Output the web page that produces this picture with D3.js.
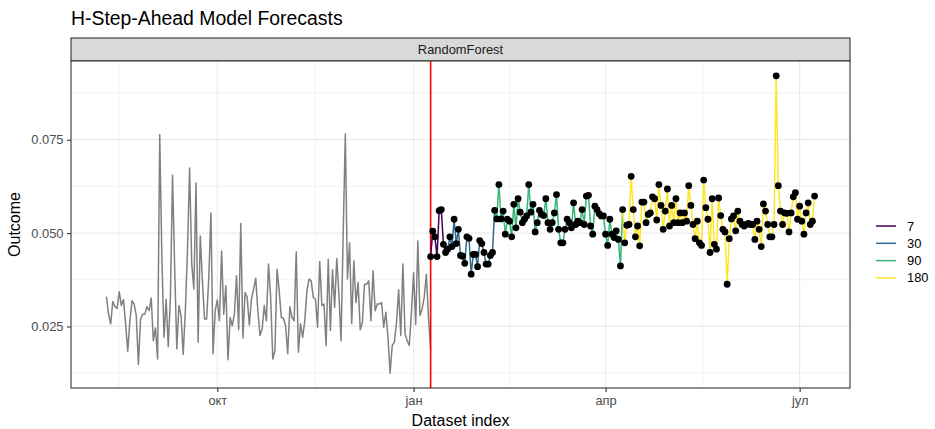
<!DOCTYPE html>
<html>
<head>
<meta charset="utf-8">
<script src="https://cdn.jsdelivr.net/npm/d3@7/dist/d3.min.js"></script>
<style>
  html, body { margin: 0; padding: 0; background: #ffffff; }
  svg { display: block; font-family: "Liberation Sans", Arial, Helvetica, sans-serif; }
</style>
</head>
<body>
<svg id="chart" width="935" height="429"></svg>
<script>
// ---------------- DATA ----------------
const chartTitle = "H-Step-Ahead Model Forecasts";
const facetLabel = "RandomForest";
const xAxisTitle = "Dataset index";
const yAxisTitle = "Outcome";

// Actual (historical) daily series, first date below
const actualStartDate = "2018-08-10";
const actualValues = [
  0.0330, 0.0283, 0.0257, 0.0317, 0.0303, 0.0298, 0.0343, 0.0306, 0.0322, 0.0257,
  0.0184, 0.0265, 0.0319, 0.0310, 0.0279, 0.0148, 0.0270, 0.0283, 0.0283, 0.0303,
  0.0292, 0.0326, 0.0212, 0.0246, 0.0163, 0.0763, 0.0434, 0.0221, 0.0322, 0.0196,
  0.0328, 0.0655, 0.0408, 0.0190, 0.0306, 0.0279, 0.0175, 0.0292, 0.0452, 0.0674,
  0.0417, 0.0350, 0.0634, 0.0208, 0.0492, 0.0372, 0.0270, 0.0270, 0.0381, 0.0554,
  0.0177, 0.0292, 0.0321, 0.0265, 0.0452, 0.0283, 0.0359, 0.0161, 0.0274, 0.0252,
  0.0283, 0.0386, 0.0241, 0.0526, 0.0219, 0.0341, 0.0328, 0.0254, 0.0323, 0.0350,
  0.0379, 0.0292, 0.0226, 0.0243, 0.0306, 0.0265, 0.0417,
  0.0328, 0.0163, 0.0185, 0.0403, 0.0346, 0.0274, 0.0272, 0.0252, 0.0177, 0.0303,
  0.0274, 0.0265, 0.0450, 0.0181, 0.0257, 0.0221, 0.0265, 0.0346, 0.0377, 0.0372,
  0.0328, 0.0323, 0.0248, 0.0424, 0.0306, 0.0310, 0.0199, 0.0430, 0.0239, 0.0402,
  0.0301, 0.0432, 0.0337, 0.0212, 0.0497, 0.0765, 0.0377, 0.0474, 0.0257, 0.0426,
  0.0314, 0.0368, 0.0241, 0.0261, 0.0363, 0.0363, 0.0372, 0.0265, 0.0399, 0.0292,
  0.0310, 0.0310, 0.0314, 0.0248, 0.0288, 0.0221, 0.0125, 0.0199, 0.0208, 0.0261,
  0.0348, 0.0226, 0.0417, 0.0230, 0.0212, 0.0199, 0.0288, 0.0394, 0.0255, 0.0479,
  0.0279, 0.0297, 0.0328, 0.0390, 0.0274, 0.0185
];

// Forecast origin (red line) and first forecast date
const forecastOriginDate = "2019-01-09";
const forecastStartDate = "2019-01-09";

// Forecasts per horizon window (days 1-7, 8-30, 31-90, 91-180)
const horizonLabels = ["7", "30", "90", "180"];
const horizonColors = ["#440154", "#31688E", "#35B779", "#FDE725"];
const forecastH7 = [0.0437, 0.0505, 0.0490, 0.0437, 0.0560, 0.0563, 0.0470];
const forecastH30 = [
  0.0448, 0.0457, 0.0490, 0.0464, 0.0537, 0.0472, 0.0510, 0.0440, 0.0438, 0.0419,
  0.0490, 0.0486, 0.0390, 0.0443, 0.0443, 0.0410, 0.0480, 0.0472, 0.0448, 0.0417,
  0.0417, 0.0440, 0.0448
];
const forecastH90 = [
  0.0561, 0.0538, 0.0630, 0.0538, 0.0559, 0.0497, 0.0537, 0.0532, 0.0490, 0.0577,
  0.0514, 0.0592, 0.0556, 0.0528, 0.0537, 0.0546, 0.0630, 0.0556, 0.0577, 0.0503,
  0.0528, 0.0561, 0.0550, 0.0547, 0.0592, 0.0528, 0.0510, 0.0528, 0.0554, 0.0603,
  0.0510, 0.0474, 0.0474, 0.0510, 0.0537, 0.0528, 0.0514, 0.0581, 0.0523, 0.0532,
  0.0528, 0.0563, 0.0523, 0.0599, 0.0601, 0.0519, 0.0497, 0.0572, 0.0563, 0.0552,
  0.0546, 0.0546, 0.0497, 0.0467, 0.0537, 0.0497, 0.0488, 0.0506, 0.0483, 0.0412
];
const forecastH180 = [
  0.0563, 0.0474, 0.0521, 0.0523, 0.0652, 0.0563, 0.0490, 0.0519, 0.0466, 0.0583,
  0.0583, 0.0528, 0.0550, 0.0554, 0.0597, 0.0592, 0.0535, 0.0630, 0.0574, 0.0510,
  0.0559, 0.0618, 0.0519, 0.0574, 0.0528, 0.0592, 0.0528, 0.0554, 0.0528, 0.0554,
  0.0532, 0.0627, 0.0574, 0.0523, 0.0485, 0.0532, 0.0474, 0.0467, 0.0642, 0.0568,
  0.0537, 0.0448, 0.0592, 0.0470, 0.0457, 0.0594, 0.0547, 0.0510, 0.0503, 0.0363,
  0.0485, 0.0538, 0.0546, 0.0506, 0.0559, 0.0532, 0.0523, 0.0519, 0.0523, 0.0526,
  0.0523, 0.0523, 0.0483, 0.0532, 0.0510, 0.0464, 0.0578, 0.0559, 0.0523, 0.0490,
  0.0490, 0.0523, 0.0921, 0.0627, 0.0559, 0.0523, 0.0554, 0.0553, 0.0503, 0.0554,
  0.0597, 0.0608, 0.0537, 0.0572, 0.0532, 0.0497, 0.0554, 0.0581, 0.0523, 0.0532,
  0.0599
];

// Axis labels
const monthLabels = ["јан", "феб", "мар", "апр", "мај", "јун", "јул", "авг", "сеп", "окт", "нов", "дец"];
const yTickValues = [0.025, 0.050, 0.075];

// ---------------- BUILD ----------------
const parse = d3.utcParse("%Y-%m-%d");
const aStart = parse(actualStartDate);
const actual = actualValues.map((v, i) => ({ date: d3.utcDay.offset(aStart, i), value: v }));

const fStart = parse(forecastStartDate);
const groups = [forecastH7, forecastH30, forecastH90, forecastH180];
const forecast = [];
groups.forEach((arr, g) => arr.forEach(v => {
  forecast.push({ date: d3.utcDay.offset(fStart, forecast.length), value: v, group: g });
}));
const origin = parse(forecastOriginDate);

const W = 935, H = 429;
const panel = { left: 71, right: 850, top: 61, bottom: 388 };
const stripTop = 38;
const smallFont = "12.9px";

const allDates = actual.map(d => d.date).concat(forecast.map(d => d.date));
const allVals = actual.map(d => d.value).concat(forecast.map(d => d.value));
const [dMin, dMax] = d3.extent(allDates);
const dSpan = dMax - dMin;
const x = d3.scaleUtc()
  .domain([new Date(+dMin - dSpan * 0.05), new Date(+dMax + dSpan * 0.05)])
  .range([panel.left, panel.right]);
const [vMin, vMax] = d3.extent(allVals);
const vSpan = vMax - vMin;
const y = d3.scaleLinear()
  .domain([vMin - vSpan * 0.05, vMax + vSpan * 0.05])
  .range([panel.bottom, panel.top]);

const svg = d3.select("#chart");
svg.append("rect").attr("width", W).attr("height", H).attr("fill", "#ffffff");

// Title
svg.append("text").attr("x", panel.left).attr("y", 25)
  .attr("font-size", "19.4px").attr("fill", "#000").text(chartTitle);

// Strip
svg.append("rect").attr("x", panel.left).attr("y", stripTop)
  .attr("width", panel.right - panel.left).attr("height", panel.top - stripTop)
  .attr("fill", "#D9D9D9").attr("stroke", "#333333").attr("stroke-width", 1.1);
svg.append("text").attr("x", (panel.left + panel.right) / 2).attr("y", (stripTop + panel.top) / 2 + 4.5)
  .attr("text-anchor", "middle").attr("font-size", smallFont).attr("fill", "#1A1A1A").text(facetLabel);

// Panel background
svg.append("rect").attr("x", panel.left).attr("y", panel.top)
  .attr("width", panel.right - panel.left).attr("height", panel.bottom - panel.top)
  .attr("fill", "#ffffff");

// Grid
const xMajor = d3.utcMonth.every(3).range(x.domain()[0], x.domain()[1]);
const xMinor = [];
for (let i = -1; i < xMajor.length; i++) {
  let a, b;
  if (i === -1) { a = +xMajor[0] - (+xMajor[1] - +xMajor[0]); b = +xMajor[0]; }
  else if (i === xMajor.length - 1) { a = +xMajor[i]; b = +xMajor[i] + (+xMajor[i] - +xMajor[i - 1]); }
  else { a = +xMajor[i]; b = +xMajor[i + 1]; }
  const m = new Date((a + b) / 2);
  if (x(m) > panel.left && x(m) < panel.right) xMinor.push(m);
}
const yMinor = [];
for (let i = -1; i < yTickValues.length; i++) {
  const step = yTickValues[1] - yTickValues[0];
  const m = (i === -1 ? yTickValues[0] - step / 2 : yTickValues[i] + step / 2);
  if (y(m) > panel.top && y(m) < panel.bottom) yMinor.push(m);
}
const grid = svg.append("g");
grid.selectAll(".ymin").data(yMinor).join("line")
  .attr("x1", panel.left).attr("x2", panel.right).attr("y1", d => y(d)).attr("y2", d => y(d))
  .attr("stroke", "#EBEBEB").attr("stroke-width", 0.6);
grid.selectAll(".xmin").data(xMinor).join("line")
  .attr("y1", panel.top).attr("y2", panel.bottom).attr("x1", d => x(d)).attr("x2", d => x(d))
  .attr("stroke", "#EBEBEB").attr("stroke-width", 0.6);
grid.selectAll(".ymaj").data(yTickValues).join("line")
  .attr("x1", panel.left).attr("x2", panel.right).attr("y1", d => y(d)).attr("y2", d => y(d))
  .attr("stroke", "#EBEBEB").attr("stroke-width", 1.2);
grid.selectAll(".xmaj").data(xMajor).join("line")
  .attr("y1", panel.top).attr("y2", panel.bottom).attr("x1", d => x(d)).attr("x2", d => x(d))
  .attr("stroke", "#EBEBEB").attr("stroke-width", 1.2);

// Actual line
const line = d3.line().x(d => x(d.date)).y(d => y(d.value));
svg.append("path").datum(actual).attr("d", line)
  .attr("fill", "none").attr("stroke", "#808080").attr("stroke-width", 1.5)
  .attr("stroke-linejoin", "round");

// Red origin line
svg.append("line").attr("x1", x(origin)).attr("x2", x(origin))
  .attr("y1", panel.top).attr("y2", panel.bottom)
  .attr("stroke", "#FF0000").attr("stroke-width", 1.6);

// Forecast lines, grouped by horizon (connector to next group drawn in this group's colour)
groups.forEach((arr, g) => {
  const pts = forecast.filter(d => d.group === g);
  const next = forecast.find(d => d.group === g + 1);
  const seg = next ? pts.concat([next]) : pts;
  svg.append("path").datum(seg).attr("d", line)
    .attr("fill", "none").attr("stroke", horizonColors[g]).attr("stroke-width", 1.5)
    .attr("stroke-linejoin", "round");
});

// Forecast points
svg.append("g").selectAll("circle").data(forecast).join("circle")
  .attr("cx", d => x(d.date)).attr("cy", d => y(d.value)).attr("r", 3.4).attr("fill", "#000");

// Panel border
svg.append("rect").attr("x", panel.left).attr("y", panel.top)
  .attr("width", panel.right - panel.left).attr("height", panel.bottom - panel.top)
  .attr("fill", "none").attr("stroke", "#333333").attr("stroke-width", 1.1);

// Axes
const xAxis = d3.axisBottom(x).tickValues(xMajor)
  .tickFormat(d => monthLabels[d.getUTCMonth()]).tickSize(4).tickPadding(3.5);
const gx = svg.append("g").attr("transform", `translate(0,${panel.bottom})`).call(xAxis);
const yAxis = d3.axisLeft(y).tickValues(yTickValues).tickFormat(d3.format(".3f")).tickSize(4).tickPadding(3.5);
const gy = svg.append("g").attr("transform", `translate(${panel.left},0)`).call(yAxis);
[gx, gy].forEach(g => {
  g.select(".domain").remove();
  g.selectAll(".tick line").attr("stroke", "#333333").attr("stroke-width", 1.1);
  g.selectAll(".tick text").attr("fill", "#4D4D4D").attr("font-size", smallFont)
    .attr("font-family", "'Liberation Sans', Arial, sans-serif");
});

// Axis titles
svg.append("text").attr("x", (panel.left + panel.right) / 2).attr("y", 426)
  .attr("text-anchor", "middle").attr("font-size", "16px").attr("fill", "#000").text(xAxisTitle);
svg.append("text").attr("transform", `translate(20,${(panel.top + panel.bottom) / 2}) rotate(-90)`)
  .attr("text-anchor", "middle").attr("font-size", "16px").attr("fill", "#000").text(yAxisTitle);

// Legend
const legendY0 = 226, legendStep = 17.3;
const lg = svg.append("g");
horizonLabels.forEach((lab, i) => {
  const cy = legendY0 + i * legendStep;
  lg.append("line").attr("x1", 876).attr("x2", 896).attr("y1", cy).attr("y2", cy)
    .attr("stroke", horizonColors[i]).attr("stroke-width", 1.5);
  lg.append("text").attr("x", 907).attr("y", cy + 4.5).attr("font-size", smallFont)
    .attr("fill", "#000").text(lab);
});
</script>
</body>
</html>
